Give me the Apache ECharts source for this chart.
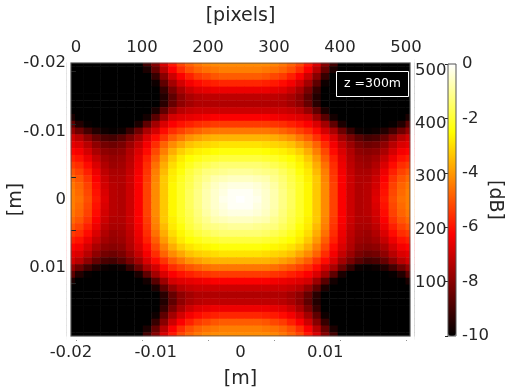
<!DOCTYPE html>
<html>
<head>
<meta charset="utf-8">
<script src="https://cdn.jsdelivr.net/npm/echarts@6/dist/echarts.min.js"></script>
<style>
  html, body { margin: 0; padding: 0; background: #fff; }
  #chart { width: 506px; height: 389px; }
</style>
</head>
<body>
<div id="chart"></div>
<script>
// cell centres [m], left -> right and top -> bottom
const xPos = [-0.020, -0.019, -0.018, -0.017, -0.016, -0.015, -0.014, -0.013, -0.012, -0.011, -0.010,
  -0.009, -0.008, -0.007, -0.006, -0.005, -0.004, -0.003, -0.002, -0.001, 0,
  0.001, 0.002, 0.003, 0.004, 0.005, 0.006, 0.007, 0.008, 0.009, 0.010,
  0.011, 0.012, 0.013, 0.014, 0.015, 0.016, 0.017, 0.018, 0.019, 0.020];
const yPos = [-0.020, -0.019, -0.018, -0.017, -0.016, -0.015, -0.014, -0.013, -0.012, -0.011, -0.010,
  -0.009, -0.008, -0.007, -0.006, -0.005, -0.004, -0.003, -0.002, -0.001, 0,
  0.001, 0.002, 0.003, 0.004, 0.005, 0.006, 0.007, 0.008, 0.009, 0.010,
  0.011, 0.012, 0.013, 0.014, 0.015, 0.016, 0.017, 0.018, 0.019, 0.020];

// beam level [dB], one row per yPos entry
const levels = [
  [-10,-10,-10,-10,-10,-10,-10,-10,-10,-9,-8,-6.8,-5.9,-5.2,-4.8,-4.5,-4.3,-4.2,-4.2,-4.2,-4.2,-4.2,-4.2,-4.2,-4.3,-4.5,-4.8,-5.2,-5.9,-6.8,-8,-9,-10,-10,-10,-10,-10,-10,-10,-10,-10],
  [-10,-10,-10,-10,-10,-10,-10,-10,-10,-9.6,-8.5,-7.3,-6.3,-5.6,-5.1,-4.8,-4.6,-4.5,-4.4,-4.4,-4.4,-4.4,-4.4,-4.5,-4.6,-4.8,-5.1,-5.6,-6.3,-7.3,-8.5,-9.6,-10,-10,-10,-10,-10,-10,-10,-10,-10],
  [-10,-10,-10,-10,-10,-10,-10,-10,-10,-10,-9.2,-8,-7,-6.3,-5.8,-5.4,-5.2,-5,-4.9,-4.9,-4.9,-4.9,-4.9,-5,-5.2,-5.4,-5.8,-6.3,-7,-8,-9.2,-10,-10,-10,-10,-10,-10,-10,-10,-10,-10],
  [-10,-10,-10,-10,-10,-10,-10,-10,-10,-10,-9.8,-8.6,-7.6,-6.9,-6.4,-6.1,-5.9,-5.8,-5.7,-5.7,-5.7,-5.7,-5.7,-5.8,-5.9,-6.1,-6.4,-6.9,-7.6,-8.6,-9.8,-10,-10,-10,-10,-10,-10,-10,-10,-10,-10],
  [-10,-10,-10,-10,-10,-10,-10,-10,-10,-10,-10,-9.2,-8.2,-7.5,-7,-6.7,-6.6,-6.5,-6.5,-6.5,-6.5,-6.5,-6.5,-6.5,-6.6,-6.7,-7,-7.5,-8.2,-9.2,-10,-10,-10,-10,-10,-10,-10,-10,-10,-10,-10],
  [-10,-10,-10,-10,-10,-10,-10,-10,-10,-10,-10,-9.5,-8.6,-7.9,-7.5,-7.3,-7.2,-7.2,-7.2,-7.2,-7.2,-7.2,-7.2,-7.2,-7.2,-7.3,-7.5,-7.9,-8.6,-9.5,-10,-10,-10,-10,-10,-10,-10,-10,-10,-10,-10],
  [-10,-10,-10,-10,-10,-10,-10,-10,-10,-10,-10,-9.4,-8.5,-7.9,-7.6,-7.4,-7.4,-7.4,-7.4,-7.4,-7.4,-7.4,-7.4,-7.4,-7.4,-7.4,-7.6,-7.9,-8.5,-9.4,-10,-10,-10,-10,-10,-10,-10,-10,-10,-10,-10],
  [-10,-10,-10,-10,-10,-10,-10,-10,-10,-10,-9.6,-8.6,-7.8,-7.3,-7.1,-7,-7,-7,-7,-7,-7,-7,-7,-7,-7,-7,-7.1,-7.3,-7.8,-8.6,-9.6,-10,-10,-10,-10,-10,-10,-10,-10,-10,-10],
  [-9.6,-10,-10,-10,-10,-10,-10,-10,-10,-9.7,-8.7,-7.7,-6.9,-6.7,-6.6,-6.5,-6.4,-6.3,-6.3,-6.3,-6.3,-6.3,-6.3,-6.3,-6.4,-6.5,-6.6,-6.7,-6.9,-7.7,-8.7,-9.7,-10,-10,-10,-10,-10,-10,-10,-10,-9.6],
  [-8.6,-9.5,-9.9,-10,-10,-10,-10,-10,-9.6,-8.6,-7.6,-6.8,-6.3,-6,-5.8,-5.6,-5.5,-5.4,-5.4,-5.4,-5.4,-5.4,-5.4,-5.4,-5.5,-5.6,-5.8,-6,-6.3,-6.8,-7.6,-8.6,-9.6,-10,-10,-10,-10,-10,-9.9,-9.5,-8.6],
  [-7.8,-8.4,-9,-9.5,-9.8,-9.9,-9.8,-9.2,-8.4,-7.5,-6.9,-6.1,-5.6,-5.3,-5,-4.8,-4.6,-4.5,-4.5,-4.5,-4.5,-4.5,-4.5,-4.5,-4.6,-4.8,-5,-5.3,-5.6,-6.1,-6.9,-7.5,-8.4,-9.2,-9.8,-9.9,-9.8,-9.5,-9,-8.4,-7.8],
  [-6.9,-7.3,-7.9,-8.5,-8.9,-9,-8.7,-8.2,-7.6,-6.8,-6.1,-5.5,-4.9,-4.5,-4.1,-3.9,-3.7,-3.6,-3.6,-3.6,-3.6,-3.6,-3.6,-3.6,-3.7,-3.9,-4.1,-4.5,-4.9,-5.5,-6.1,-6.8,-7.6,-8.2,-8.7,-9,-8.9,-8.5,-7.9,-7.3,-6.9],
  [-6.6,-6.8,-7.3,-7.9,-8.3,-8.4,-8.2,-7.7,-7.1,-6.4,-5.6,-4.8,-4.2,-3.8,-3.4,-3.2,-3.1,-3,-2.9,-2.9,-2.9,-2.9,-2.9,-3,-3.1,-3.2,-3.4,-3.8,-4.2,-4.8,-5.6,-6.4,-7.1,-7.7,-8.2,-8.4,-8.3,-7.9,-7.3,-6.8,-6.6],
  [-6.2,-6.4,-6.9,-7.5,-7.9,-8,-7.9,-7.4,-6.8,-6.1,-5.2,-4.4,-3.7,-3.2,-2.9,-2.7,-2.6,-2.5,-2.4,-2.4,-2.4,-2.4,-2.4,-2.5,-2.6,-2.7,-2.9,-3.2,-3.7,-4.4,-5.2,-6.1,-6.8,-7.4,-7.9,-8,-7.9,-7.5,-6.9,-6.4,-6.2],
  [-5.8,-6,-6.5,-7.1,-7.6,-7.8,-7.7,-7.3,-6.6,-5.8,-4.9,-4,-3.3,-2.8,-2.5,-2.3,-2.1,-2,-1.9,-1.9,-1.9,-1.9,-1.9,-2,-2.1,-2.3,-2.5,-2.8,-3.3,-4,-4.9,-5.8,-6.6,-7.3,-7.7,-7.8,-7.6,-7.1,-6.5,-6,-5.8],
  [-5.4,-5.6,-6.1,-6.8,-7.4,-7.7,-7.6,-7.2,-6.5,-5.6,-4.6,-3.7,-3,-2.6,-2.2,-1.9,-1.7,-1.5,-1.4,-1.4,-1.4,-1.4,-1.4,-1.5,-1.7,-1.9,-2.2,-2.6,-3,-3.7,-4.6,-5.6,-6.5,-7.2,-7.6,-7.7,-7.4,-6.8,-6.1,-5.6,-5.4],
  [-5,-5.3,-5.8,-6.5,-7.2,-7.5,-7.5,-7.1,-6.4,-5.5,-4.4,-3.5,-2.8,-2.4,-1.9,-1.6,-1.3,-1.2,-1.1,-1,-1,-1,-1.1,-1.2,-1.3,-1.6,-1.9,-2.4,-2.8,-3.5,-4.4,-5.5,-6.4,-7.1,-7.5,-7.5,-7.2,-6.5,-5.8,-5.3,-5],
  [-4.7,-5,-5.5,-6.3,-7,-7.4,-7.4,-7,-6.3,-5.4,-4.3,-3.3,-2.7,-2.2,-1.8,-1.4,-1.1,-0.8,-0.7,-0.6,-0.6,-0.6,-0.7,-0.8,-1.1,-1.4,-1.8,-2.2,-2.7,-3.3,-4.3,-5.4,-6.3,-7,-7.4,-7.4,-7,-6.3,-5.5,-5,-4.7],
  [-4.5,-4.8,-5.3,-6.1,-6.9,-7.3,-7.4,-7,-6.3,-5.3,-4.2,-3.3,-2.6,-2.1,-1.7,-1.3,-0.9,-0.6,-0.4,-0.3,-0.3,-0.3,-0.4,-0.6,-0.9,-1.3,-1.7,-2.1,-2.6,-3.3,-4.2,-5.3,-6.3,-7,-7.4,-7.3,-6.9,-6.1,-5.3,-4.8,-4.5],
  [-4.4,-4.7,-5.2,-6,-6.8,-7.3,-7.4,-7,-6.3,-5.3,-4.2,-3.3,-2.6,-2.1,-1.6,-1.2,-0.8,-0.5,-0.3,-0.1,-0.1,-0.1,-0.3,-0.5,-0.8,-1.2,-1.6,-2.1,-2.6,-3.3,-4.2,-5.3,-6.3,-7,-7.4,-7.3,-6.8,-6,-5.2,-4.7,-4.4],
  [-4.4,-4.6,-5.1,-5.9,-6.7,-7.3,-7.4,-7,-6.3,-5.3,-4.2,-3.3,-2.6,-2.1,-1.6,-1.2,-0.8,-0.5,-0.2,-0.1,0,-0.1,-0.2,-0.5,-0.8,-1.2,-1.6,-2.1,-2.6,-3.3,-4.2,-5.3,-6.3,-7,-7.4,-7.3,-6.7,-5.9,-5.1,-4.6,-4.4],
  [-4.4,-4.7,-5.2,-6,-6.8,-7.3,-7.4,-7,-6.3,-5.3,-4.2,-3.3,-2.6,-2.1,-1.6,-1.2,-0.8,-0.5,-0.3,-0.1,-0.1,-0.1,-0.3,-0.5,-0.8,-1.2,-1.6,-2.1,-2.6,-3.3,-4.2,-5.3,-6.3,-7,-7.4,-7.3,-6.8,-6,-5.2,-4.7,-4.4],
  [-4.5,-4.8,-5.3,-6.1,-6.9,-7.3,-7.4,-7,-6.3,-5.3,-4.2,-3.3,-2.6,-2.1,-1.7,-1.3,-0.9,-0.6,-0.4,-0.3,-0.3,-0.3,-0.4,-0.6,-0.9,-1.3,-1.7,-2.1,-2.6,-3.3,-4.2,-5.3,-6.3,-7,-7.4,-7.3,-6.9,-6.1,-5.3,-4.8,-4.5],
  [-4.7,-5,-5.5,-6.3,-7,-7.4,-7.4,-7,-6.3,-5.4,-4.3,-3.3,-2.7,-2.2,-1.8,-1.4,-1.1,-0.8,-0.7,-0.6,-0.6,-0.6,-0.7,-0.8,-1.1,-1.4,-1.8,-2.2,-2.7,-3.3,-4.3,-5.4,-6.3,-7,-7.4,-7.4,-7,-6.3,-5.5,-5,-4.7],
  [-5,-5.3,-5.8,-6.5,-7.2,-7.5,-7.5,-7.1,-6.4,-5.5,-4.4,-3.5,-2.8,-2.4,-1.9,-1.6,-1.3,-1.2,-1.1,-1,-1,-1,-1.1,-1.2,-1.3,-1.6,-1.9,-2.4,-2.8,-3.5,-4.4,-5.5,-6.4,-7.1,-7.5,-7.5,-7.2,-6.5,-5.8,-5.3,-5],
  [-5.4,-5.6,-6.1,-6.8,-7.4,-7.7,-7.6,-7.2,-6.5,-5.6,-4.6,-3.7,-3,-2.6,-2.2,-1.9,-1.7,-1.5,-1.4,-1.4,-1.4,-1.4,-1.4,-1.5,-1.7,-1.9,-2.2,-2.6,-3,-3.7,-4.6,-5.6,-6.5,-7.2,-7.6,-7.7,-7.4,-6.8,-6.1,-5.6,-5.4],
  [-5.8,-6,-6.5,-7.1,-7.6,-7.8,-7.7,-7.3,-6.6,-5.8,-4.9,-4,-3.3,-2.8,-2.5,-2.3,-2.1,-2,-1.9,-1.9,-1.9,-1.9,-1.9,-2,-2.1,-2.3,-2.5,-2.8,-3.3,-4,-4.9,-5.8,-6.6,-7.3,-7.7,-7.8,-7.6,-7.1,-6.5,-6,-5.8],
  [-6.2,-6.4,-6.9,-7.5,-7.9,-8,-7.9,-7.4,-6.8,-6.1,-5.2,-4.4,-3.7,-3.2,-2.9,-2.7,-2.6,-2.5,-2.4,-2.4,-2.4,-2.4,-2.4,-2.5,-2.6,-2.7,-2.9,-3.2,-3.7,-4.4,-5.2,-6.1,-6.8,-7.4,-7.9,-8,-7.9,-7.5,-6.9,-6.4,-6.2],
  [-6.6,-6.8,-7.3,-7.9,-8.3,-8.4,-8.2,-7.7,-7.1,-6.4,-5.6,-4.8,-4.2,-3.8,-3.4,-3.2,-3.1,-3,-2.9,-2.9,-2.9,-2.9,-2.9,-3,-3.1,-3.2,-3.4,-3.8,-4.2,-4.8,-5.6,-6.4,-7.1,-7.7,-8.2,-8.4,-8.3,-7.9,-7.3,-6.8,-6.6],
  [-6.9,-7.3,-7.9,-8.5,-8.9,-9,-8.7,-8.2,-7.6,-6.8,-6.1,-5.5,-4.9,-4.5,-4.1,-3.9,-3.7,-3.6,-3.6,-3.6,-3.6,-3.6,-3.6,-3.6,-3.7,-3.9,-4.1,-4.5,-4.9,-5.5,-6.1,-6.8,-7.6,-8.2,-8.7,-9,-8.9,-8.5,-7.9,-7.3,-6.9],
  [-7.8,-8.4,-9,-9.5,-9.8,-9.9,-9.8,-9.2,-8.4,-7.5,-6.9,-6.1,-5.6,-5.3,-5,-4.8,-4.6,-4.5,-4.5,-4.5,-4.5,-4.5,-4.5,-4.5,-4.6,-4.8,-5,-5.3,-5.6,-6.1,-6.9,-7.5,-8.4,-9.2,-9.8,-9.9,-9.8,-9.5,-9,-8.4,-7.8],
  [-8.6,-9.5,-9.9,-10,-10,-10,-10,-10,-9.6,-8.6,-7.6,-6.8,-6.3,-6,-5.8,-5.6,-5.5,-5.4,-5.4,-5.4,-5.4,-5.4,-5.4,-5.4,-5.5,-5.6,-5.8,-6,-6.3,-6.8,-7.6,-8.6,-9.6,-10,-10,-10,-10,-10,-9.9,-9.5,-8.6],
  [-9.6,-10,-10,-10,-10,-10,-10,-10,-10,-9.7,-8.7,-7.7,-6.9,-6.7,-6.6,-6.5,-6.4,-6.3,-6.3,-6.3,-6.3,-6.3,-6.3,-6.3,-6.4,-6.5,-6.6,-6.7,-6.9,-7.7,-8.7,-9.7,-10,-10,-10,-10,-10,-10,-10,-10,-9.6],
  [-10,-10,-10,-10,-10,-10,-10,-10,-10,-10,-9.6,-8.6,-7.8,-7.3,-7.1,-7,-7,-7,-7,-7,-7,-7,-7,-7,-7,-7,-7.1,-7.3,-7.8,-8.6,-9.6,-10,-10,-10,-10,-10,-10,-10,-10,-10,-10],
  [-10,-10,-10,-10,-10,-10,-10,-10,-10,-10,-10,-9.4,-8.5,-7.9,-7.6,-7.4,-7.4,-7.4,-7.4,-7.4,-7.4,-7.4,-7.4,-7.4,-7.4,-7.4,-7.6,-7.9,-8.5,-9.4,-10,-10,-10,-10,-10,-10,-10,-10,-10,-10,-10],
  [-10,-10,-10,-10,-10,-10,-10,-10,-10,-10,-10,-9.5,-8.6,-7.9,-7.5,-7.3,-7.2,-7.2,-7.2,-7.2,-7.2,-7.2,-7.2,-7.2,-7.2,-7.3,-7.5,-7.9,-8.6,-9.5,-10,-10,-10,-10,-10,-10,-10,-10,-10,-10,-10],
  [-10,-10,-10,-10,-10,-10,-10,-10,-10,-10,-10,-9.2,-8.2,-7.5,-7,-6.7,-6.6,-6.5,-6.5,-6.5,-6.5,-6.5,-6.5,-6.5,-6.6,-6.7,-7,-7.5,-8.2,-9.2,-10,-10,-10,-10,-10,-10,-10,-10,-10,-10,-10],
  [-10,-10,-10,-10,-10,-10,-10,-10,-10,-10,-9.8,-8.6,-7.6,-6.9,-6.4,-6.1,-5.9,-5.8,-5.7,-5.7,-5.7,-5.7,-5.7,-5.8,-5.9,-6.1,-6.4,-6.9,-7.6,-8.6,-9.8,-10,-10,-10,-10,-10,-10,-10,-10,-10,-10],
  [-10,-10,-10,-10,-10,-10,-10,-10,-10,-10,-9.2,-8,-7,-6.3,-5.8,-5.4,-5.2,-5,-4.9,-4.9,-4.9,-4.9,-4.9,-5,-5.2,-5.4,-5.8,-6.3,-7,-8,-9.2,-10,-10,-10,-10,-10,-10,-10,-10,-10,-10],
  [-10,-10,-10,-10,-10,-10,-10,-10,-10,-9.6,-8.5,-7.3,-6.3,-5.6,-5.1,-4.8,-4.6,-4.5,-4.4,-4.4,-4.4,-4.4,-4.4,-4.5,-4.6,-4.8,-5.1,-5.6,-6.3,-7.3,-8.5,-9.6,-10,-10,-10,-10,-10,-10,-10,-10,-10],
  [-10,-10,-10,-10,-10,-10,-10,-10,-10,-9,-8,-6.8,-5.9,-5.2,-4.8,-4.5,-4.3,-4.2,-4.2,-4.2,-4.2,-4.2,-4.2,-4.2,-4.3,-4.5,-4.8,-5.2,-5.9,-6.8,-8,-9,-10,-10,-10,-10,-10,-10,-10,-10,-10]
];

const meterTicks = [-0.02, -0.01, 0, 0.01];
const pixelTicksTop = [0, 100, 200, 300, 400, 500];
const pixelTicksRight = [100, 200, 300, 400, 500];
const dbTicks = [-10, -8, -6, -4, -2, 0];
const label = 'z =300m';

// matlab "hot"
const hot = ['#000000', '#550000', '#aa0000', '#ff0000', '#ff5500', '#ffaa00', '#ffff00', '#ffff80', '#ffffff'];

const cells = [];
levels.forEach((row, j) => row.forEach((v, i) => cells.push([i, j, v])));

const ink = '#262626';
const font = 'DejaVu Sans';
const tick = (vals, len) => ({ show: true, inside: true, length: len, customValues: vals, lineStyle: { color: ink, width: 1 } });
const lbl = (vals, margin) => ({ show: true, customValues: vals, margin: margin, color: ink, fontSize: 16.5, fontFamily: font });
const nameStyle = { color: ink, fontSize: 19, fontFamily: font };

const chart = echarts.init(document.getElementById('chart'), null, { renderer: 'canvas' });
chart.setOption({
  animation: false,
  title: {
    text: label,
    left: 336,
    top: 71,
    padding: [6, 8, 7, 8],
    backgroundColor: '#000',
    borderColor: '#fff',
    borderWidth: 1,
    textStyle: { color: '#fff', fontSize: 12.5, fontWeight: 'normal', fontFamily: font }
  },
  grid: [
    { left: 71, top: 63, width: 339, height: 273, outerBoundsMode: 'none', containLabel: false },
    { left: 71, top: 63, width: 339, height: 273, outerBoundsMode: 'none', containLabel: false, show: true, borderColor: '#555', borderWidth: 1, backgroundColor: 'transparent', z: 10 },
    { left: 448, top: 64, width: 8, height: 272, outerBoundsMode: 'none', containLabel: false, show: true, borderColor: '#555', borderWidth: 1, backgroundColor: 'transparent', z: 10 }
  ],
  xAxis: [
    { gridIndex: 0, type: 'category', data: xPos, boundaryGap: false, show: false },
    {
      gridIndex: 1, type: 'value', position: 'bottom', min: -0.02, max: 0.02,
      axisLine: { show: false }, splitLine: { show: false },
      axisTick: tick(meterTicks, 5), axisLabel: lbl(meterTicks, 8),
      name: '[m]', nameLocation: 'middle', nameGap: 34, nameMoveOverlap: false, nameTextStyle: nameStyle
    },
    {
      gridIndex: 1, type: 'value', position: 'top', min: -7.5, max: 506,
      axisLine: { show: false }, splitLine: { show: false },
      axisTick: tick(pixelTicksTop, 5), axisLabel: lbl(pixelTicksTop, 7),
      name: '[pixels]', nameLocation: 'middle', nameGap: 37, nameMoveOverlap: false, nameTextStyle: nameStyle
    },
    { gridIndex: 2, type: 'value', min: 0, max: 1, show: false }
  ],
  yAxis: [
    { gridIndex: 0, type: 'category', data: yPos, boundaryGap: false, inverse: true, show: false },
    {
      gridIndex: 1, type: 'value', position: 'left', inverse: true, min: -0.02, max: 0.02,
      axisLine: { show: false }, splitLine: { show: false },
      axisTick: tick(meterTicks, 5), axisLabel: lbl(meterTicks, 5),
      name: '[m]', nameLocation: 'middle', nameGap: 45, nameRotate: 90, nameMoveOverlap: false, nameTextStyle: nameStyle
    },
    {
      gridIndex: 1, type: 'value', position: 'right', min: 0, max: 515, z: 5,
      axisLine: { show: false }, splitLine: { show: false },
      axisTick: tick(pixelTicksRight, 5), axisLabel: lbl(pixelTicksRight, 5)
    },
    {
      gridIndex: 2, type: 'value', position: 'right', min: -10, max: 0,
      axisLine: { show: false }, splitLine: { show: false },
      axisTick: tick(dbTicks, 3), axisLabel: lbl(dbTicks, 6),
      name: '[dB]', nameLocation: 'middle', nameGap: 29, nameRotate: -90, nameMoveOverlap: false, nameTextStyle: nameStyle
    }
  ],
  visualMap: {
    type: 'continuous',
    min: -10,
    max: 0,
    seriesIndex: 0,
    dimension: 2,
    calculable: false,
    hoverLink: false,
    left: 448,
    top: 64,
    itemWidth: 8,
    itemHeight: 272,
    padding: 0,
    showLabel: false,
    inRange: { color: hot }
  },
  // white strips hide the half cells that spill past the frame
  graphic: {
    elements: [
      { type: 'rect', z: 100, shape: { x: 66.2, y: 58, width: 4.3, height: 284 }, style: { fill: '#fff' } },
      { type: 'rect', z: 100, shape: { x: 410.5, y: 58, width: 4.2, height: 284 }, style: { fill: '#fff' } },
      { type: 'rect', z: 100, shape: { x: 66.2, y: 58.5, width: 348.5, height: 4 }, style: { fill: '#fff' } },
      { type: 'rect', z: 100, shape: { x: 66.2, y: 336.5, width: 348.5, height: 4 }, style: { fill: '#fff' } }
    ]
  },
  series: [
    {
      type: 'heatmap',
      xAxisIndex: 0,
      yAxisIndex: 0,
      data: cells,
      emphasis: { disabled: true },
      progressive: 0
    }
  ]
});
</script>
</body>
</html>
